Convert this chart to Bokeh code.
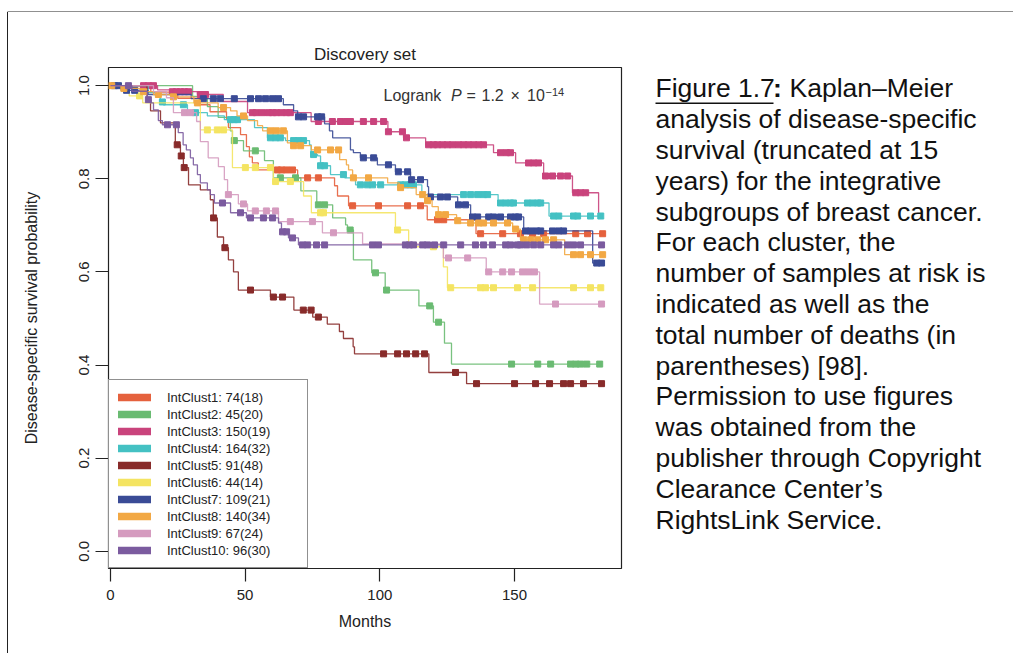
import numpy as np
from bokeh.plotting import figure
from bokeh.layouts import row, column
from bokeh.models import (Range1d, FixedTicker, NumeralTickFormatter, Legend,
                          LegendItem, Label, BoxAnnotation, Div)
from bokeh.embed import file_html
from bokeh.resources import INLINE

# ---------------- data ----------------
clusters = ["IntClust1", "IntClust2", "IntClust3", "IntClust4", "IntClust5",
            "IntClust6", "IntClust7", "IntClust8", "IntClust9", "IntClust10"]
n_samples = [74, 45, 150, 164, 91, 44, 109, 140, 67, 96]
n_deaths = [18, 20, 19, 32, 48, 14, 21, 34, 24, 30]
colors = ["#E5613D", "#6ABB72", "#C9437C", "#44C1C3", "#882B2A",
          "#F4E462", "#3A4B96", "#F2A844", "#D59BBF", "#7B5B9F"]

ic1_t = [15, 25, 33, 37, 43.1, 43.8, 48.3, 50.5, 51.6, 52.7, 54.9, 69.5, 83.2, 84.3, 88.4, 117.6, 135.7]
ic1_s = [0.986, 0.973, 0.959, 0.944, 0.927, 0.910, 0.895, 0.869, 0.847, 0.834, 0.819, 0.802, 0.785, 0.763, 0.742, 0.712, 0.682]
ic1_c = [62.0, 63.5, 65.4, 67.6, 73.2, 77.2, 89.9, 99.5, 110.3, 115.1, 121.4, 123.7, 137.4, 145.6, 152.2, 156.7, 160.8, 172.7, 177.1, 182.7]

ic2_t = [30.5, 36, 40, 44.5, 45.3, 49.4, 57.2, 60.5, 70.7, 76.6, 82.5, 87.3, 88.0, 90.2, 97, 102, 114.5, 119.9, 124, 126.6]
ic2_s = [0.977, 0.955, 0.932, 0.903, 0.882, 0.860, 0.839, 0.802, 0.774, 0.744, 0.716, 0.701, 0.690, 0.626, 0.598, 0.561, 0.527, 0.492, 0.447, 0.402]
ic2_c = [46.0, 53.8, 63.1, 68.7, 77.2, 79.5, 89.0, 98.4, 102.5, 118.5, 121.8, 148.9, 158.6, 163.4, 170.8, 172.7, 174.5, 176.8, 181.6]

ic3_t = [17.5, 22, 32.3, 41.9, 50.9, 74.5, 103, 108.8, 117, 142.2, 150.4, 160.8, 171.5, 181.2]
ic3_s = [0.991, 0.987, 0.981, 0.966, 0.942, 0.923, 0.901, 0.888, 0.873, 0.856, 0.834, 0.806, 0.770, 0.723]
ic3_c = [12.3, 14.1, 16.0, 23.0, 24.5, 26.0, 27.5, 29.0, 33.4, 35.3, 52.7, 54.2, 56.4, 58.7, 60.2, 61.6, 63.5, 65.4,
         66.8, 77.2, 82.4, 85.4, 87.6, 89.1, 93.9, 97.7, 101.4, 103.2, 108.4, 109.9, 118.1, 119.9, 121.4, 123.3,
         125.1, 127.0, 129.2, 131.1, 132.9, 134.8, 136.7, 138.5, 144.8, 147.0, 148.5, 155.2, 157.1, 158.9, 161.5,
         164.1, 167.1, 169.7, 172.7, 174.5, 176.4]

ic4_t = [14, 17, 18.5, 19.7, 28.6, 36, 42.3, 53.5, 58.3, 65, 73.9, 74.5, 76.9, 78, 81.7, 87, 91, 115.6, 143.9, 162.8]
ic4_s = [0.985, 0.975, 0.965, 0.959, 0.942, 0.935, 0.927, 0.910, 0.888, 0.882, 0.873, 0.852, 0.849, 0.828, 0.809, 0.802, 0.787, 0.766, 0.748, 0.720]
ic4_c = [19.3, 27.1, 31.6, 44.6, 46.0, 47.2, 59.4, 61.3, 63.1, 68.0, 69.8, 71.7, 75.4, 78.0, 79.5, 86.5, 92.8, 95.4,
         97.3, 100.3, 107.7, 109.5, 111.4, 112.5, 131.1, 133.7, 136.3, 138.5, 140.0, 144.8, 146.7, 148.5, 149.6,
         154.8, 156.7, 158.6, 159.7, 164.5, 166.4, 171.9, 173.4, 178.2, 182.0]

ic5_t = [13.6, 14.9, 18.6, 24.1, 26.0, 27.1, 29.0, 33.4, 37.1, 38.2, 39.7, 42.0, 43.8, 45.7, 47.5, 59.4, 68.1, 75.1,
         80.5, 85.0, 86.5, 90.1, 90.6, 118.2, 132.2]
ic5_s = [0.971, 0.946, 0.920, 0.873, 0.849, 0.824, 0.787, 0.776, 0.755, 0.716, 0.675, 0.652, 0.626, 0.600, 0.561,
         0.546, 0.518, 0.503, 0.488, 0.472, 0.457, 0.439, 0.424, 0.384, 0.360]
ic5_c = [24.8, 26.3, 27.4, 38.3, 42.5, 52.0, 60.5, 63.9, 71.6, 74.5, 77.2, 101.4, 106.6, 109.9, 113.3, 116.6, 128.1,
         135.9, 150.0, 157.8, 163.0, 168.2, 170.8, 175.6, 182.3]

ic6_t = [7, 12, 33.4, 45.3, 60.5, 71.7, 74.6, 105.8, 110.7, 123.6, 125.1]
ic6_s = [0.978, 0.963, 0.905, 0.824, 0.794, 0.763, 0.727, 0.690, 0.654, 0.611, 0.566]
ic6_c = [10.8, 36.0, 39.7, 42.0, 50.1, 53.8, 59.4, 61.3, 66.8, 78.0, 79.1, 106.6, 119.9, 126.3, 137.4, 139.2, 142.2,
         151.1, 156.7, 171.9, 178.2, 182.0]

ic7_t = [4, 14, 30, 64.2, 68.0, 69.5, 79.5, 81.3, 82.5, 89.1, 90.2, 92.8, 99.1, 105.8, 111.4, 117.7, 118.1, 128.9,
         133.7, 153.4, 179.0]
ic7_s = [0.990, 0.981, 0.972, 0.959, 0.946, 0.933, 0.918, 0.903, 0.888, 0.862, 0.856, 0.845, 0.830, 0.815, 0.798,
         0.783, 0.761, 0.744, 0.718, 0.688, 0.619]
ic7_c = [1.5, 3.0, 6.0, 9.0, 34.5, 38.2, 40.8, 46.0, 52.0, 55.0, 57.6, 60.2, 62.4, 69.8, 71.7, 76.9, 78.4, 93.9,
         97.7, 103.2, 106.9, 110.3, 111.8, 115.1, 118.8, 122.5, 125.1, 129.2, 131.8, 134.4, 136.3, 140.4, 142.2,
         144.8, 148.5, 150.4, 151.5, 154.1, 156.0, 158.2, 159.7, 164.1, 166.4, 168.2, 180.5, 182.3]

ic8_t = [4.5, 11, 16, 23, 31, 40, 44.6, 47, 50.9, 54.6, 56.5, 65.7, 67.6, 74.6, 85.1, 87.6, 88.4, 89.9, 102.9, 107.2,
         113.5, 117.6, 119.4, 121.7, 128.5, 129.9, 149.3, 152.2, 168.6]
ic8_s = [0.994, 0.987, 0.981, 0.976, 0.963, 0.953, 0.946, 0.935, 0.925, 0.914, 0.903, 0.877, 0.871, 0.862, 0.841,
         0.830, 0.819, 0.802, 0.791, 0.781, 0.766, 0.753, 0.740, 0.723, 0.710, 0.705, 0.692, 0.669, 0.637]
ic8_c = [0.5, 5.0, 12.3, 17.8, 23.4, 32.3, 42.0, 49.4, 59.4, 61.6, 64.2, 68.0, 70.6, 76.9, 81.7, 84.7, 90.2, 95.8,
         107.7, 115.9, 117.7, 121.8, 124.4, 128.9, 133.7, 136.7, 138.5, 142.2, 147.4, 150.4, 153.4, 156.0, 158.6,
         161.5, 164.5, 171.9, 174.5, 178.2, 182.7]

ic9_t = [16, 20.8, 23.4, 32, 33.4, 36.3, 40.1, 42.3, 43.5, 47.5, 50.9, 62.4, 78.7, 93.6, 123.6, 139.5, 159.3]
ic9_s = [0.987, 0.974, 0.942, 0.923, 0.880, 0.845, 0.826, 0.798, 0.766, 0.746, 0.731, 0.708, 0.684, 0.660, 0.630,
         0.600, 0.531]
ic9_c = [27.5, 29.7, 43.8, 49.4, 53.8, 57.9, 61.3, 66.8, 75.0, 82.8, 125.5, 132.6, 140.4, 145.6, 148.9, 153.0,
         155.2, 157.4, 165.2, 182.3]

ic10_t = [8, 13.7, 14.9, 16, 17.8, 19.3, 25.2, 27, 28.2, 29.7, 30.8, 32.3, 33.4, 36, 37.1, 38.6, 44.6, 50.5, 62.4,
          63.5, 66.1, 69.8]
ic10_s = [0.988, 0.970, 0.963, 0.948, 0.925, 0.916, 0.899, 0.873, 0.862, 0.845, 0.830, 0.809, 0.791, 0.776, 0.766,
          0.748, 0.727, 0.716, 0.705, 0.686, 0.673, 0.658]
ic10_c = [6.7, 14.1, 21.2, 24.5, 41.6, 48.3, 52.0, 56.8, 60.2, 63.9, 65.4, 67.6, 71.3, 73.2, 76.5, 79.5, 97.3, 99.5,
          109.5, 111.0, 112.5, 115.9, 117.7, 120.3, 123.7, 130.0, 135.5, 138.5, 141.8, 146.7, 148.5, 151.1, 152.2,
          154.5, 157.1, 159.7, 164.5, 166.4, 169.7, 171.9, 174.5, 182.3]

last_followup = [182.7, 181.6, 182.3, 182.0, 182.3, 182.0, 182.3, 182.7, 182.3, 182.3]

x_ticks = [0, 50, 100, 150]
y_ticks = [0.0, 0.2, 0.4, 0.6, 0.8, 1.0]

title_text = "Discovery set"
x_label = "Months"
y_label = "Disease-specific survival probability"

caption_lines = [
    "analysis of disease-specific",
    "survival (truncated at 15",
    "years) for the integrative",
    "subgroups of breast cancer.",
    "For each cluster, the",
    "number of samples at risk is",
    "indicated as well as the",
    "total number of deaths (in",
    "parentheses) [98].",
    "Permission to use figures",
    "was obtained from the",
    "publisher through Copyright",
    "Clearance Center\u2019s",
    "RightsLink Service.",
]

times = [ic1_t, ic2_t, ic3_t, ic4_t, ic5_t, ic6_t, ic7_t, ic8_t, ic9_t, ic10_t]
survs = [ic1_s, ic2_s, ic3_s, ic4_s, ic5_s, ic6_s, ic7_s, ic8_s, ic9_s, ic10_s]
censors = [ic1_c, ic2_c, ic3_c, ic4_c, ic5_c, ic6_c, ic7_c, ic8_c, ic9_c, ic10_c]

FONT = "Liberation Sans"
INK = "#222222"
BASE_SHIFT = 0.36      # label y correction (in em) so that glyph baselines land where wanted

# page geometry (pixels): top strip 12, left strip 8, main plot 622 wide, caption 383 wide
TOP_H, LEFT_W, MAIN_W, CAP_W = 12, 8, 622, 383
BODY_H = 653 - TOP_H
FL, FR, FT, FB = 108, 621, 67, 568      # plot frame edges in page pixels


def sx(px):
    return px - FL


def sy(py):
    return FB - py


# ---------------- main plot ----------------
p = figure(width=MAIN_W, height=BODY_H, output_backend="svg", toolbar_location=None,
           x_range=Range1d(-0.7, 189.7), y_range=Range1d(-0.037, 1.039),
           min_border_left=FL - LEFT_W, min_border_right=LEFT_W + MAIN_W - FR,
           min_border_top=FT - TOP_H, min_border_bottom=653 - FB,
           title=title_text)
p.title.align = "center"
p.title.text_font = FONT
p.title.text_font_size = "17px"
p.title.text_font_style = "normal"
p.title.text_color = INK
p.title.standoff = 7
p.grid.visible = False
p.outline_line_color = INK
p.outline_line_width = 1.2
p.background_fill_color = "white"
p.border_fill_color = "white"

p.xaxis.ticker = FixedTicker(ticks=x_ticks)
p.yaxis.ticker = FixedTicker(ticks=y_ticks)
p.yaxis.formatter = NumeralTickFormatter(format="0.0")
p.yaxis.major_label_orientation = "vertical"
p.xaxis.axis_label = x_label
p.yaxis.axis_label = y_label
for ax in (p.xaxis[0], p.yaxis[0]):
    ax.axis_line_color = None
    ax.major_tick_out = 13
    ax.major_tick_in = 0
    ax.major_tick_line_color = INK
    ax.major_tick_line_width = 1.2
    ax.minor_tick_line_color = None
    ax.major_label_text_font = FONT
    ax.major_label_text_font_size = "15px"
    ax.major_label_text_color = INK
    ax.axis_label_text_font = FONT
    ax.axis_label_text_font_size = "16px"
    ax.axis_label_text_font_style = "normal"
    ax.axis_label_text_color = INK
p.xaxis.major_label_standoff = 8
p.xaxis.axis_label_standoff = 10
p.yaxis.major_label_standoff = 6
p.yaxis.axis_label_standoff = 37

for i in range(len(clusters)):
    t, s, c = times[i], survs[i], censors[i]
    xs = [0.0] + list(t) + [last_followup[i]]
    ys = [1.0] + list(s) + [s[-1]]
    p.step(xs, ys, mode="after", line_color=colors[i], line_width=1.3, line_alpha=0.9)
    idx = np.searchsorted(np.array(t), np.array(c), side="right")
    lev = np.r_[1.0, np.array(s)][idx]
    p.scatter(c, lev, marker="square", size=6, fill_color=colors[i], line_color=colors[i])

# legend proxies (thick keys), kept outside the visible range
items = []
for i in range(len(clusters)):
    r = p.line([-20, -10], [-1, -1], line_color=colors[i], line_width=7.5, line_cap="round")
    items.append(LegendItem(label=f"{clusters[i]}: {n_samples[i]}({n_deaths[i]})", renderers=[r]))
legend = Legend(items=items, location="bottom_left", margin=0, padding=9, spacing=1,
                glyph_width=33, glyph_height=16, label_height=16, label_width=131, label_standoff=16,
                label_text_font=FONT, label_text_font_size="13px", label_text_color=INK,
                border_line_color=INK, border_line_width=1.2, background_fill_color="white",
                background_fill_alpha=1.0)
p.add_layout(legend, "center")

lr_base = 100.7
for txt, px, style, size, base in [("Logrank", 383, "normal", 16, lr_base),
                                   ("P", 450.5, "italic", 16, lr_base),
                                   ("=", 466, "normal", 16, lr_base),
                                   ("1.2", 481, "normal", 16, lr_base),
                                   ("\u00d7", 510, "normal", 16, lr_base),
                                   ("10", 526.5, "normal", 16, lr_base),
                                   ("\u221214", 545, "normal", 11, 95)]:
    p.add_layout(Label(x=sx(px), y=sy(base - BASE_SHIFT * size), x_units="screen", y_units="screen",
                       text=txt, text_font=FONT, text_font_size=f"{size}px", text_font_style=style,
                       text_color="#333333", text_baseline="alphabetic", text_align="left"))

# ---------------- caption panel (data coords == page pixels) ----------------
CAP_X0 = LEFT_W + MAIN_W
cap = figure(width=CAP_W, height=BODY_H, output_backend="svg", toolbar_location=None,
             x_axis_type=None, y_axis_type=None,
             x_range=Range1d(CAP_X0, CAP_X0 + CAP_W), y_range=Range1d(FB, FT),
             min_border_left=0, min_border_right=0, min_border_top=FT - TOP_H, min_border_bottom=653 - FB)
cap.outline_line_color = None
cap.background_fill_color = "white"
cap.border_fill_color = "white"

CAP_X = 655
CAP_B0 = 97.5
CAP_DY = 30.8
CAP_PX = 26.5
CAP_SIZE = f"{CAP_PX}px"
CAP_INK = "#111111"
shift = BASE_SHIFT * CAP_PX
cap.add_layout(Label(x=CAP_X, y=CAP_B0 - shift, text="Figure 1.7", text_font=FONT, text_font_size=CAP_SIZE,
                     text_color=CAP_INK, text_baseline="alphabetic"))
cap.add_layout(Label(x=772.5, y=CAP_B0 - shift, text=":", text_font=FONT, text_font_size=CAP_SIZE,
                     text_font_style="bold", text_color=CAP_INK, text_baseline="alphabetic"))
cap.add_layout(Label(x=789, y=CAP_B0 - shift, text="Kaplan\u2013Meier", text_font=FONT,
                     text_font_size=CAP_SIZE, text_color=CAP_INK, text_baseline="alphabetic"))
for k, line in enumerate(caption_lines):
    cap.add_layout(Label(x=CAP_X, y=CAP_B0 + (k + 1) * CAP_DY - shift, text=line, text_font=FONT,
                         text_font_size=CAP_SIZE, text_color=CAP_INK, text_baseline="alphabetic"))
cap.add_layout(BoxAnnotation(left=655, right=773, top=CAP_B0 + 4.5, bottom=CAP_B0 + 6,
                             fill_color=CAP_INK, fill_alpha=1.0, line_color=None))

# ---------------- page frame lines ----------------
top = figure(width=1013, height=TOP_H, output_backend="svg", toolbar_location=None,
             x_axis_type=None, y_axis_type=None, x_range=Range1d(0, 1013), y_range=Range1d(TOP_H, 0),
             min_border_left=0, min_border_right=0, min_border_top=0, min_border_bottom=0)
top.outline_line_color = None
top.background_fill_color = "white"
top.border_fill_color = "white"
top.add_layout(BoxAnnotation(left=7, right=1013, top=11, bottom=12.5,
                             fill_color="#222222", fill_alpha=1.0, line_color=None))

left = Div(width=LEFT_W, height=BODY_H, margin=0,
           text='<div style="margin:0 0 0 7px;padding:0;width:1.3px;height:%dpx;background:#222222;"></div>' % BODY_H)

page = column(top, row(left, p, cap, spacing=0), spacing=0)
open("out.html", "w").write(file_html(page, INLINE))
